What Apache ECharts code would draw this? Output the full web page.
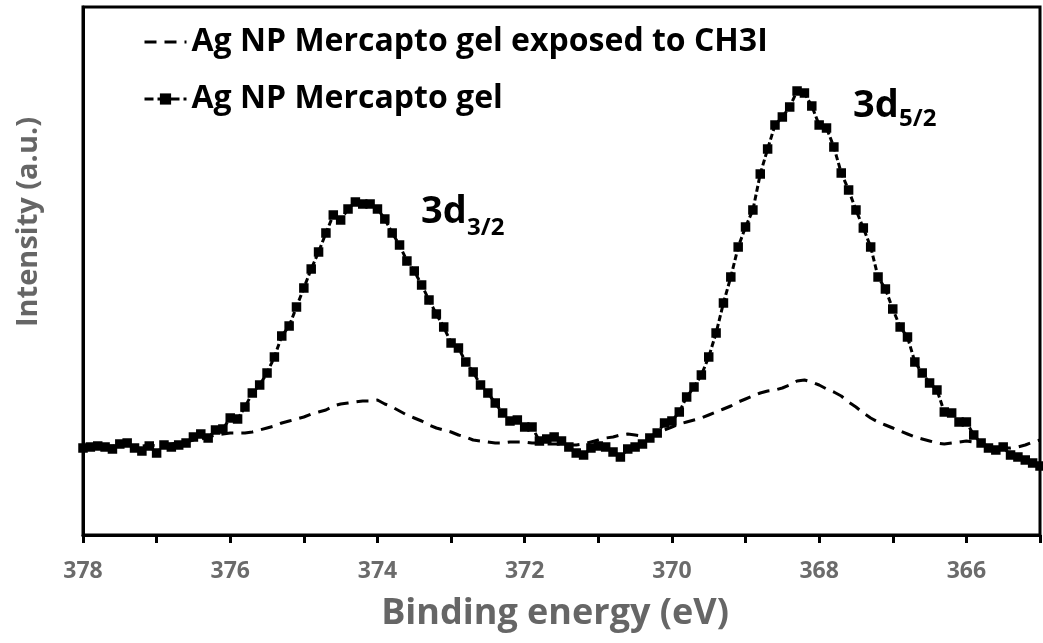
<!DOCTYPE html>
<html><head><meta charset="utf-8">
<script src="https://cdn.jsdelivr.net/npm/echarts@6/dist/echarts.min.js"></script>
<style>html,body{margin:0;padding:0;background:#fff}#c{width:1043px;height:643px}</style>
</head><body><div id="c"></div>
<script>
// Binding energy (eV), sampled every 0.1 eV
const energies = [
378.0,377.9,377.8,377.7,377.6,377.5,377.4,377.3,377.2,377.1,
377.0,376.9,376.8,376.7,376.6,376.5,376.4,376.3,376.2,376.1,
376.0,375.9,375.8,375.7,375.6,375.5,375.4,375.3,375.2,375.1,
375.0,374.9,374.8,374.7,374.6,374.5,374.4,374.3,374.2,374.1,
374.0,373.9,373.8,373.7,373.6,373.5,373.4,373.3,373.2,373.1,
373.0,372.9,372.8,372.7,372.6,372.5,372.4,372.3,372.2,372.1,
372.0,371.9,371.8,371.7,371.6,371.5,371.4,371.3,371.2,371.1,
371.0,370.9,370.8,370.7,370.6,370.5,370.4,370.3,370.2,370.1,
370.0,369.9,369.8,369.7,369.6,369.5,369.4,369.3,369.2,369.1,
369.0,368.9,368.8,368.7,368.6,368.5,368.4,368.3,368.2,368.1,
368.0,367.9,367.8,367.7,367.6,367.5,367.4,367.3,367.2,367.1,
367.0,366.9,366.8,366.7,366.6,366.5,366.4,366.3,366.2,366.1,
366.0,365.9,365.8,365.7,365.6,365.5,365.4,365.3,365.2,365.1,
365.0];

// Ag NP Mercapto gel (a.u.)
const mercaptoGel = [
87,88,89,88,86,91,92,87,84,89,
82,90,88,90,92,98,101,97,105,106,
117,116,128,142,150,162,178,199,209,228,
247,266,283,302,320,315,326,333,331,331,
326,316,302,290,274,264,250,235,221,208,
192,187,173,163,150,142,132,122,114,115,
108,108,94,96,98,94,88,82,80,87,
89,88,83,78,86,88,91,97,102,112,
114,123,138,148,160,178,202,232,258,288,
308,325,361,386,410,418,428,444,442,429,
410,407,388,362,345,325,307,288,258,246,
226,208,198,173,162,152,145,123,122,113,
113,100,92,87,85,88,80,78,75,72,
69];

// Ag NP Mercapto gel exposed to CH3I (a.u.)
const exposedCH3I = [
89,89,90,89,89,90,90,89,89,90,
89,90,91,92,93,95,96,98,100,101,
102,102,102,103,105,107,109,112,114,116,
118,121,123,125,129,131,132,133,134,134,
135,131,128,124,120,117,114,110,107,105,
103,100,98,95,94,93,92,92,93,93,
93,92,92,91,91,91,90,90,91,93,
95,97,98,100,101,100,99,99,101,105,
108,111,113,115,117,120,123,126,129,133,
136,139,142,144,145,147,150,154,155,153,
150,146,143,139,133,128,122,117,113,110,
107,104,101,98,96,94,92,91,92,93,
94,93,91,89,88,87,87,88,90,93,
95];

const xTickLabels = ['378','376','374','372','370','368','366'];
const seriesNames = ['Ag NP Mercapto gel exposed to CH3I', 'Ag NP Mercapto gel'];
const peakLabels = [{main:'3d', sub:'3/2'}, {main:'3d', sub:'5/2'}];

const FONT = '"Open Sans", "Liberation Sans", sans-serif';
const chart = echarts.init(document.getElementById('c'), null, {renderer:'canvas'});
chart.setOption({
  animation: false,
  backgroundColor: '#fff',
  grid: {left: 83, right: -5, top: 7, bottom: 108, show: true, borderColor: '#000', borderWidth: 3},
  legend: {
    orient: 'vertical', left: 138, top: 21, itemGap: 25,
    itemWidth: 42, itemHeight: 14,
    textStyle: {fontFamily: FONT, fontWeight: 'bold', fontSize: 32, color: '#000'},
    data: [
      {name: seriesNames[0], itemStyle: {opacity: 0}, lineStyle: {width: 3, type: [12, 8]}},
      {name: seriesNames[1], lineStyle: {width: 3, type: [9, 4]}}
    ]
  },
  xAxis: {
    type: 'value', inverse: true, min: 365, max: 378, interval: 1,
    axisLine: {lineStyle: {color: '#000', width: 3}},
    axisTick: {show: true, length: 8, lineStyle: {color: '#000', width: 3}},
    splitLine: {show: false},
    axisLabel: {
      margin: 25, color: '#6b6b6b', fontFamily: FONT, fontWeight: 'bold', fontSize: 23,
      formatter: v => { const s = String(Math.round(v)); return xTickLabels.includes(s) ? s : ''; }
    }
  },
  yAxis: {
    type: 'value', min: 0, max: 528,
    axisLine: {show: true, lineStyle: {color: '#000', width: 3}},
    axisTick: {show: false}, axisLabel: {show: false}, splitLine: {show: false}
  },
  graphic: [
    {type: 'text', x: 555, y: 614, style: {text: 'Binding energy (eV)', font: 'bold 36px ' + FONT, fill: '#666', align: 'center', verticalAlign: 'middle'}},
    {type: 'text', x: 29, y: 222, rotation: Math.PI / 2, style: {text: 'Intensity (a.u.)', font: 'bold 29px ' + FONT, fill: '#666', align: 'center', verticalAlign: 'middle'}},
    {type: 'text', x: 421, y: 212, style: {text: peakLabels[0].main, font: 'bold 38px ' + FONT, fill: '#000', align: 'left', verticalAlign: 'middle'}},
    {type: 'text', x: 467, y: 228, style: {text: peakLabels[0].sub, font: 'bold 24px ' + FONT, fill: '#000', align: 'left', verticalAlign: 'middle'}},
    {type: 'text', x: 853, y: 106, style: {text: peakLabels[1].main, font: 'bold 38px ' + FONT, fill: '#000', align: 'left', verticalAlign: 'middle'}},
    {type: 'text', x: 899, y: 119, style: {text: peakLabels[1].sub, font: 'bold 24px ' + FONT, fill: '#000', align: 'left', verticalAlign: 'middle'}}
  ],
  series: [
    {
      name: seriesNames[0], type: 'line', symbol: 'none', smooth: false,
      lineStyle: {color: '#000', width: 3, type: [12, 8]},
      itemStyle: {color: '#000'},
      data: energies.map((e, i) => [e, exposedCH3I[i]])
    },
    {
      name: seriesNames[1], type: 'line', symbol: 'rect', symbolSize: 9.5,
      lineStyle: {color: '#000', width: 3, type: [6, 3]},
      itemStyle: {color: '#000'},
      data: energies.map((e, i) => [e, mercaptoGel[i]])
    }
  ]
});
</script>
</body></html>
